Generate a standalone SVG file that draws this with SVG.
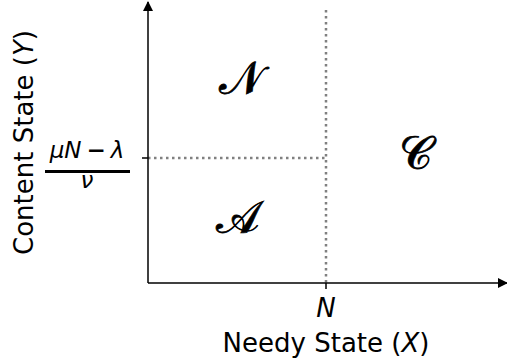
<svg xmlns="http://www.w3.org/2000/svg" width="507" height="364" viewBox="0 0 507 364">
<style>
.lbl{font-family:"DejaVu Sans",sans-serif;font-size:26px;fill:#000}
.math{font-family:"DejaVu Sans",sans-serif;font-size:23px;fill:#000}
.it{font-style:italic}
.cal{font-family:"DejaVu Serif","Liberation Serif",serif;font-size:46px;fill:#000;stroke:#000;stroke-width:0.8}
.axis{stroke:#000;stroke-width:1.5;fill:none}
.dot{stroke:#808080;stroke-width:2.5;stroke-dasharray:2.5 3.5;fill:none}
</style>
<defs>
<marker id="arr" viewBox="0 0 10 10" refX="9" refY="5" markerWidth="10" markerHeight="10" markerUnits="userSpaceOnUse" orient="auto">
<path d="M0,0 L10,5 L0,10 Z" fill="#000"/>
</marker>
</defs>
<g id="connectors">
<line class="dot" x1="148" y1="158" x2="326" y2="158"/>
<line class="dot" x1="326" y1="10" x2="326" y2="283"/>
<line class="axis" x1="148" y1="283" x2="148" y2="2" marker-end="url(#arr)"/>
<line class="axis" x1="148" y1="283" x2="507" y2="283" marker-end="url(#arr)"/>
<line class="axis" x1="326" y1="283" x2="326" y2="289"/>
<line class="axis" x1="142" y1="158" x2="148" y2="158"/>
</g>
<g id="region-N"><text class="cal" x="241" y="94" text-anchor="middle">𝒩</text></g>
<g id="region-C"><text class="cal" x="416" y="169" text-anchor="middle">𝒞</text></g>
<g id="region-A"><text class="cal" x="238" y="233" text-anchor="middle">𝒜</text></g>
<g id="x-axis-labels">
<text class="lbl it" x="326" y="317" text-anchor="middle" font-size="27">N</text>
<text class="lbl" x="326" y="352" text-anchor="middle">Needy State (<tspan class="it">X</tspan>)</text>
</g>
<g id="y-axis-labels">
<text class="lbl" transform="translate(33,142.5) rotate(-90)" text-anchor="middle">Content State (<tspan class="it">Y</tspan>)</text>
<text class="math it" x="87" y="158" text-anchor="middle">μN<tspan dx="5" font-weight="bold">−</tspan><tspan dx="5">λ</tspan></text>
<line x1="45" y1="171.5" x2="130" y2="171.5" stroke="#000" stroke-width="3"/>
<text class="math it" x="87" y="188" text-anchor="middle">ν</text>
</g>
</svg>
